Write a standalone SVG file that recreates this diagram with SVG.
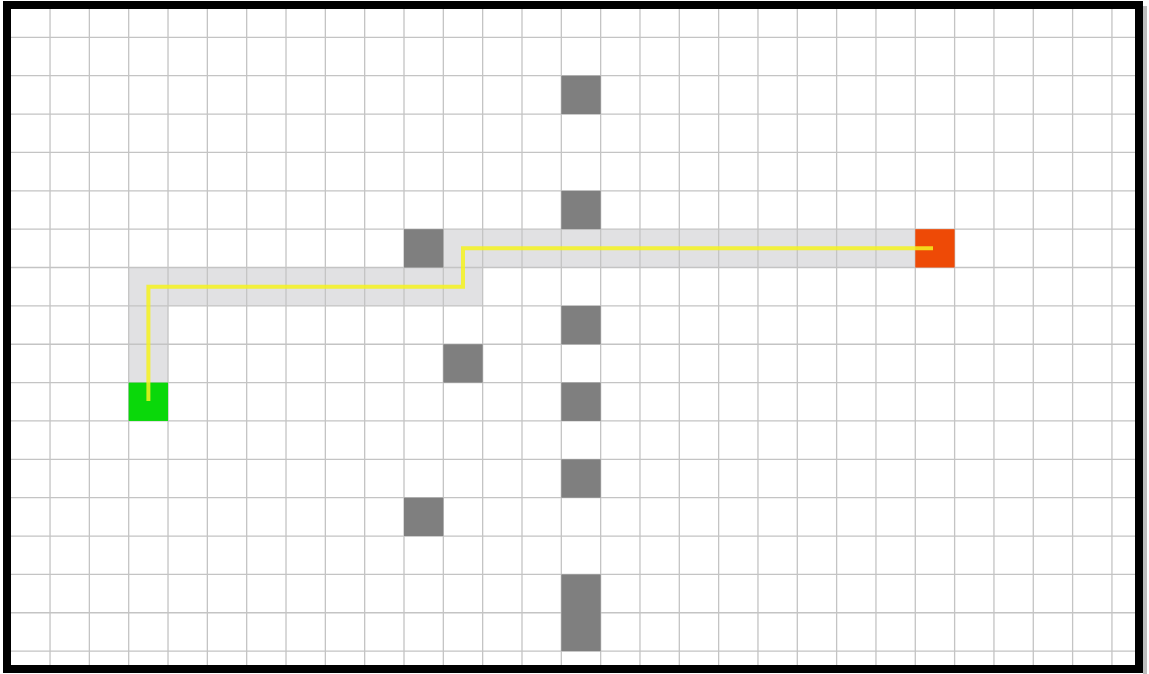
<svg xmlns="http://www.w3.org/2000/svg" width="1149" height="674" viewBox="0 0 1149 674">
  <defs>
    <style>
      .grid { stroke: #c4c4c4; stroke-width: 1.3; fill: none; }
      .wall { fill: #7f7f7f; }
      .band { fill: #e1e1e3; }
      .route { stroke: #f4f21e; stroke-width: 4; fill: none; stroke-opacity: 0.85; stroke-linejoin: miter; }
      .start { fill: #0ad80a; }
      .goal { fill: #ee4a06; }
      .frame { fill: none; stroke: #000; stroke-width: 8; }
    </style>
    <clipPath id="inner">
      <rect x="11" y="9" width="1124" height="656"/>
    </clipPath>
  </defs>
  <rect x="0" y="0" width="1149" height="674" fill="#ffffff"/>
  <rect x="1143" y="6" width="4" height="668" fill="#bdbdbd"/>
  <g id="visited">
    <path class="band" d="M128.69,382.6 V267.52 H443.33 V229.16 H915.29 V267.52 H482.66 V305.88 H168.02 V382.6 Z"/>
  </g>
  <g id="grid" clip-path="url(#inner)">
    <path class="grid" d="M50.03,0V674 M89.36,0V674 M128.69,0V674 M168.02,0V674 M207.35,0V674 M246.68,0V674 M286.01,0V674 M325.34,0V674 M364.67,0V674 M404,0V674 M443.33,0V674 M482.66,0V674 M521.99,0V674 M561.32,0V674 M600.65,0V674 M639.98,0V674 M679.31,0V674 M718.64,0V674 M757.97,0V674 M797.3,0V674 M836.63,0V674 M875.96,0V674 M915.29,0V674 M954.62,0V674 M993.95,0V674 M1033.28,0V674 M1072.61,0V674 M1111.94,0V674
      M0,37.36H1149 M0,75.72H1149 M0,114.08H1149 M0,152.44H1149 M0,190.8H1149 M0,229.16H1149 M0,267.52H1149 M0,305.88H1149 M0,344.24H1149 M0,382.6H1149 M0,420.96H1149 M0,459.32H1149 M0,497.68H1149 M0,536.04H1149 M0,574.4H1149 M0,612.76H1149 M0,651.12H1149"/>
  </g>
  <g id="walls">
    <rect id="wall-14-2" class="wall" x="561.32" y="75.72" width="39.33" height="38.36"/>
    <rect id="wall-14-5" class="wall" x="561.32" y="190.8" width="39.33" height="38.36"/>
    <rect id="wall-10-6" class="wall" x="404" y="229.16" width="39.33" height="38.36"/>
    <rect id="wall-14-8" class="wall" x="561.32" y="305.88" width="39.33" height="38.36"/>
    <rect id="wall-11-9" class="wall" x="443.33" y="344.24" width="39.33" height="38.36"/>
    <rect id="wall-14-10" class="wall" x="561.32" y="382.6" width="39.33" height="38.36"/>
    <rect id="wall-14-12" class="wall" x="561.32" y="459.32" width="39.33" height="38.36"/>
    <rect id="wall-10-13" class="wall" x="404" y="497.68" width="39.33" height="38.36"/>
    <rect id="wall-14-15" class="wall" x="561.32" y="574.4" width="39.33" height="76.72"/>
  </g>
  <g id="start">
    <rect class="start" x="128.69" y="382.6" width="39.33" height="38.36"/>
  </g>
  <g id="goal">
    <rect class="goal" x="915.29" y="229.16" width="39.33" height="38.36"/>
  </g>
  <g id="connectors">
    <path class="route" d="M148.4,401 V286.7 H463 V248.3 H933"/>
  </g>
  <rect class="frame" x="7" y="5" width="1132" height="664"/>
</svg>
